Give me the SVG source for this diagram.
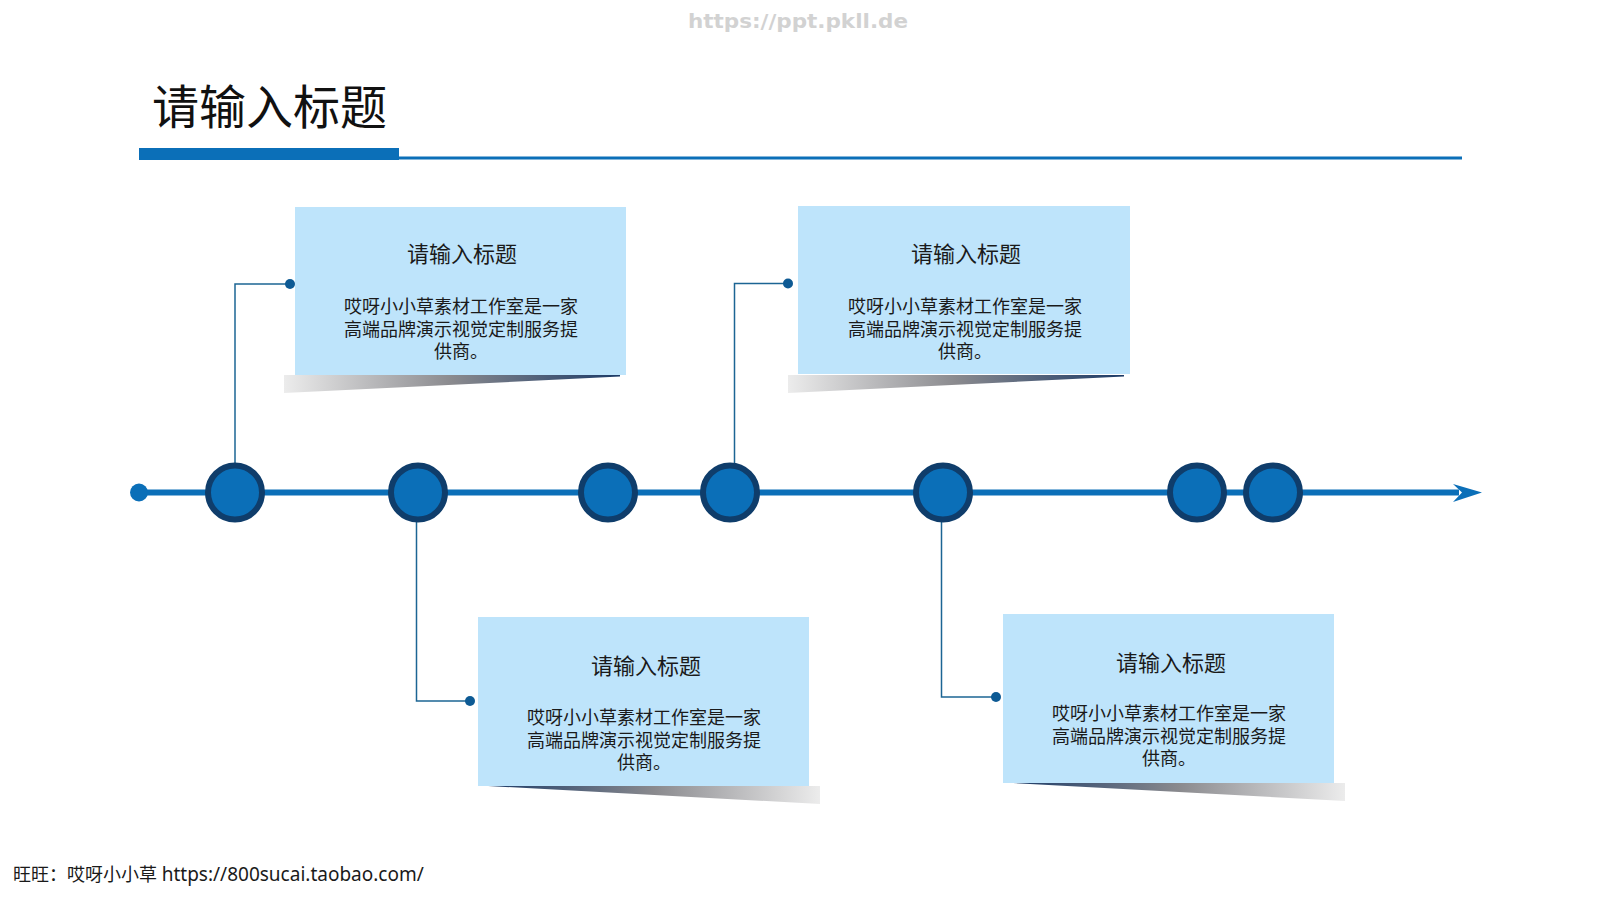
<svg xmlns="http://www.w3.org/2000/svg" width="1600" height="900" viewBox="0 0 1600 900">
<style>
.box{fill:#BEE4FB}
.bt{font-family:"Noto Sans CJK SC","Microsoft YaHei",sans-serif;font-size:22px;fill:#1a1a1a;text-anchor:middle}
.bd{font-family:"Noto Sans CJK SC","Microsoft YaHei",sans-serif;font-size:18px;fill:#1a1a1a;text-anchor:middle}
.conn{fill:none;stroke:#1C6594;stroke-width:1.5}
.dot{fill:#0D5A94}
.node{fill:#0B6FB8;stroke:#0F3D6B;stroke-width:6}
</style>
<defs>
<linearGradient id="shL" x1="0" y1="0" x2="1" y2="0">
<stop offset="0" stop-color="#ececec"/>
<stop offset="0.5" stop-color="#8a8a8e"/>
<stop offset="1" stop-color="#1c3a66"/>
</linearGradient>
<linearGradient id="shR" x1="0" y1="0" x2="1" y2="0">
<stop offset="0" stop-color="#1c3a66"/>
<stop offset="0.5" stop-color="#8a8a8e"/>
<stop offset="1" stop-color="#ececec"/>
</linearGradient>
</defs>
<rect width="1600" height="900" fill="#ffffff"/>
<text x="798" y="28" font-family="DejaVu Sans" font-weight="bold" font-size="20" fill="#d2d2d2" text-anchor="middle" textLength="220" lengthAdjust="spacingAndGlyphs">https://ppt.pkll.de</text>
<g id="header">
<text x="152" y="124" font-family="'Noto Sans CJK SC', sans-serif" font-size="47" fill="#111">请输入标题</text>
<rect x="139" y="148" width="260" height="12" fill="#0B6FB8"/>
<rect x="399" y="156.5" width="1063" height="3" fill="#0B6FB8"/>
</g>
<g id="connectors">
<polyline class="conn" points="235,463 235,284 290,284"/>
<circle class="dot" cx="290" cy="284" r="5"/>
<polyline class="conn" points="734.5,463 734.5,283.5 788,283.5"/>
<circle class="dot" cx="788" cy="283.5" r="5"/>
<polyline class="conn" points="416.5,522 416.5,701 470,701"/>
<circle class="dot" cx="470" cy="701" r="5"/>
<polyline class="conn" points="941.5,522 941.5,697 996,697"/>
<circle class="dot" cx="996" cy="697" r="5"/>
</g>
<g id="timeline">
<rect x="139" y="489.5" width="1320" height="6" fill="#0B6FB8"/>
<circle cx="139" cy="492.5" r="9" fill="#0B6FB8"/>
<polygon points="1482,492.5 1453,484 1462,492.5 1453,502" fill="#0B6FB8"/>
</g>
<g id="n1"><circle class="node" cx="235" cy="492.5" r="27"/></g>
<g id="n2"><circle class="node" cx="418" cy="492.5" r="27"/></g>
<g id="n3"><circle class="node" cx="608" cy="492.5" r="27"/></g>
<g id="n4"><circle class="node" cx="730" cy="492.5" r="27"/></g>
<g id="n5"><circle class="node" cx="943" cy="492.5" r="27"/></g>
<g id="n6"><circle class="node" cx="1197" cy="492.5" r="27"/></g>
<g id="n7"><circle class="node" cx="1273" cy="492.5" r="27"/></g>
<g id="box1">
<polygon points="284,375 620,375 620,376.5 284,393" fill="url(#shL)"/>
<rect class="box" x="295" y="207" width="331" height="168"/>
<text class="bt" x="462" y="262">请输入标题</text>
<text class="bd"><tspan x="461" y="313">哎呀小小草素材工作室是一家</tspan><tspan x="461" y="335.5">高端品牌演示视觉定制服务提</tspan><tspan x="461" y="358">供商。</tspan></text>
</g>
<g id="box2">
<polygon points="788,375 1124,375 1124,376.5 788,393" fill="url(#shL)"/>
<rect class="box" x="798" y="206" width="332" height="168"/>
<text class="bt" x="966" y="262">请输入标题</text>
<text class="bd"><tspan x="965" y="313">哎呀小小草素材工作室是一家</tspan><tspan x="965" y="335.5">高端品牌演示视觉定制服务提</tspan><tspan x="965" y="358">供商。</tspan></text>
</g>
<g id="box3">
<polygon points="488,786 820,786 820,804" fill="url(#shR)"/>
<rect class="box" x="478" y="617" width="331" height="169"/>
<text class="bt" x="646" y="674">请输入标题</text>
<text class="bd"><tspan x="644" y="724">哎呀小小草素材工作室是一家</tspan><tspan x="644" y="746.5">高端品牌演示视觉定制服务提</tspan><tspan x="644" y="769">供商。</tspan></text>
</g>
<g id="box4">
<polygon points="1013,783 1345,783 1345,801" fill="url(#shR)"/>
<rect class="box" x="1003" y="614" width="331" height="169"/>
<text class="bt" x="1171" y="671">请输入标题</text>
<text class="bd"><tspan x="1169" y="720">哎呀小小草素材工作室是一家</tspan><tspan x="1169" y="742.5">高端品牌演示视觉定制服务提</tspan><tspan x="1169" y="765">供商。</tspan></text>
</g>
<text x="13" y="881" font-family="'Noto Sans', 'Noto Sans CJK SC', sans-serif" font-size="18" fill="#1a1a1a">旺旺：哎呀小小草 <tspan font-size="19">https://800sucai.taobao.com/</tspan></text>
</svg>
